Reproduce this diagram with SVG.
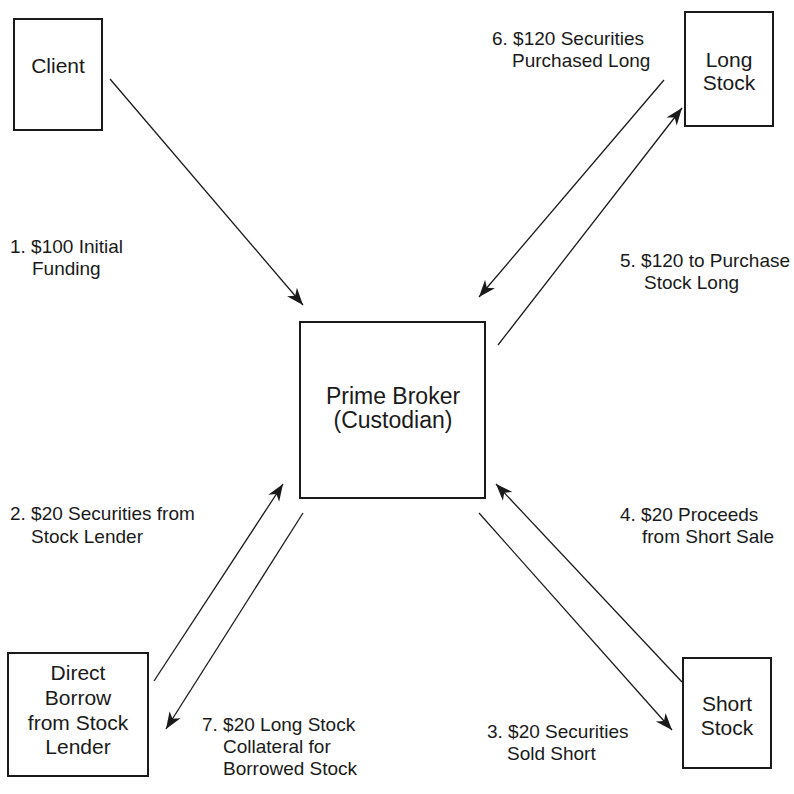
<svg xmlns="http://www.w3.org/2000/svg" width="794" height="794" viewBox="0 0 794 794">
<style>
  .box { fill: #ffffff; stroke: #1a1a1a; stroke-width: 2; }
  .node { font-family: "Liberation Sans", Arial, sans-serif; font-size: 21px; fill: #1a1a1a; text-anchor: middle; }
  .big { font-size: 23px; }
  .lbl { font-family: "Liberation Sans", Arial, sans-serif; font-size: 19px; fill: #1a1a1a; }
  .conn { stroke: #1a1a1a; stroke-width: 1.3; fill: none; marker-end: url(#arrow); }
</style>
<defs>
  <marker id="arrow" markerUnits="userSpaceOnUse" viewBox="-18 -7 19 14" refX="0" refY="0" markerWidth="19" markerHeight="14" orient="auto">
    <path d="M0,0 L-17,-6.5 L-12,0 L-17,6.5 Z" fill="#1a1a1a"/>
  </marker>
</defs>
<rect width="794" height="794" fill="#ffffff"/>

<g id="client">
  <rect class="box" x="14" y="19" width="88" height="111"/>
  <text class="node" x="58" y="73">Client</text>
</g>
<g id="long-stock">
  <rect class="box" x="685" y="12" width="88" height="114"/>
  <text class="node" x="729" y="67">Long</text>
  <text class="node" x="729" y="90">Stock</text>
</g>
<g id="prime-broker">
  <rect class="box" x="300" y="322" width="185" height="176"/>
  <text class="node big" x="393" y="404">Prime Broker</text>
  <text class="node big" x="393" y="428">(Custodian)</text>
</g>
<g id="direct-borrow">
  <rect class="box" x="8" y="653" width="140" height="123"/>
  <text class="node" x="78" y="680">Direct</text>
  <text class="node" x="78" y="705">Borrow</text>
  <text class="node" x="78" y="730">from Stock</text>
  <text class="node" x="78" y="754">Lender</text>
</g>
<g id="short-stock">
  <rect class="box" x="683" y="658" width="88" height="110"/>
  <text class="node" x="727" y="711">Short</text>
  <text class="node" x="727" y="735">Stock</text>
</g>

<g id="connectors">
  <line class="conn" x1="110" y1="79" x2="303" y2="305"/>
  <line class="conn" x1="664" y1="80" x2="479" y2="297"/>
  <line class="conn" x1="498" y1="345" x2="682" y2="108"/>
  <line class="conn" x1="154" y1="681" x2="283" y2="484"/>
  <line class="conn" x1="303" y1="513" x2="166" y2="729"/>
  <line class="conn" x1="682" y1="682" x2="496" y2="484"/>
  <line class="conn" x1="479" y1="513" x2="672" y2="730"/>
</g>

<g id="labels">
  <text class="lbl" x="10" y="253">1. $100 Initial</text>
  <text class="lbl" x="32" y="275">Funding</text>
  <text class="lbl" x="10" y="520">2. $20 Securities from</text>
  <text class="lbl" x="31" y="543">Stock Lender</text>
  <text class="lbl" x="487" y="738">3. $20 Securities</text>
  <text class="lbl" x="507" y="760">Sold Short</text>
  <text class="lbl" x="620" y="521">4. $20 Proceeds</text>
  <text class="lbl" x="642" y="543">from Short Sale</text>
  <text class="lbl" x="620" y="267">5. $120 to Purchase</text>
  <text class="lbl" x="644" y="289">Stock Long</text>
  <text class="lbl" x="492" y="45">6. $120 Securities</text>
  <text class="lbl" x="512" y="67">Purchased Long</text>
  <text class="lbl" x="202" y="731">7. $20 Long Stock</text>
  <text class="lbl" x="223" y="753">Collateral for</text>
  <text class="lbl" x="223" y="775">Borrowed Stock</text>
</g>
</svg>
